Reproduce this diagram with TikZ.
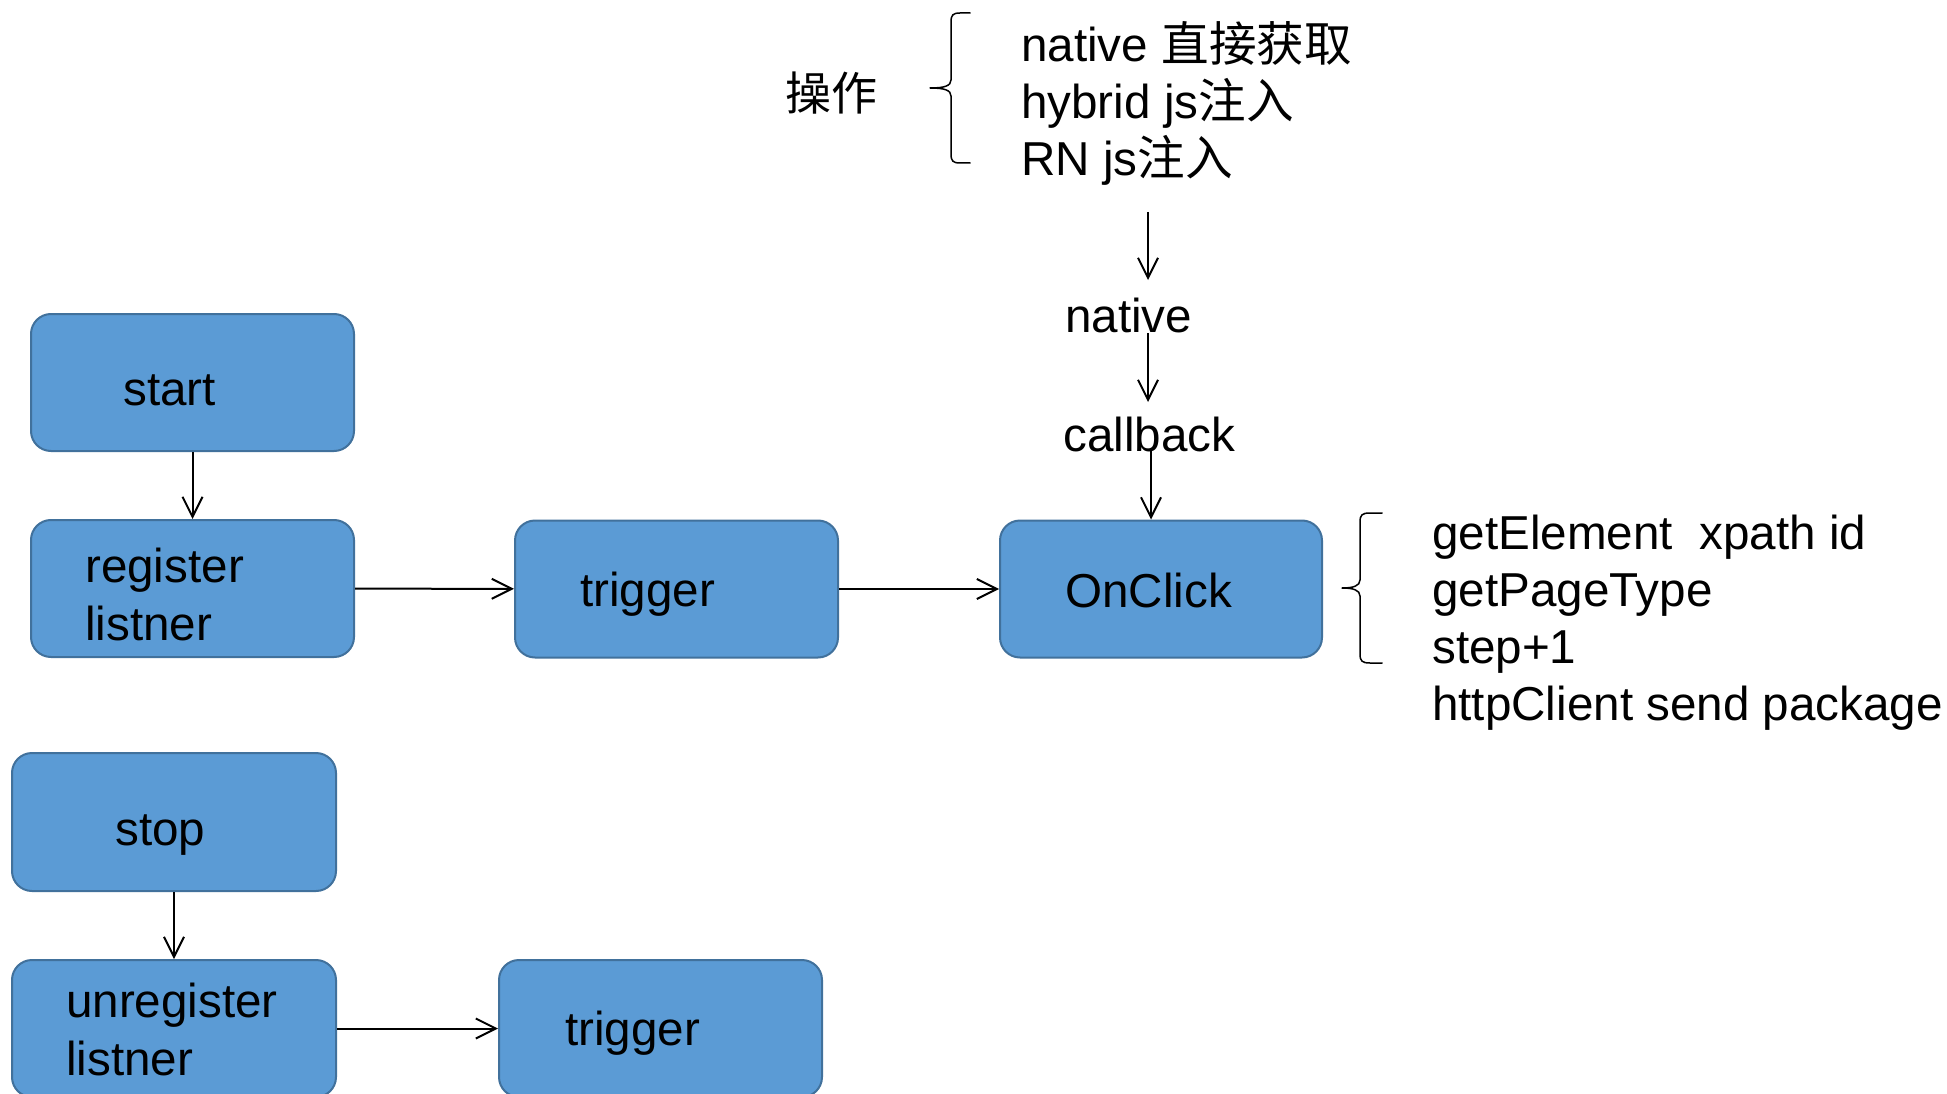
\documentclass[tikz,border=0pt]{standalone}
\usepackage{fontspec}
\setmainfont{Liberation Sans}
\newfontfamily\cjk{Noto Sans CJK SC}
\usetikzlibrary{arrows.meta}
\definecolor{boxfill}{HTML}{5B9BD5}
\definecolor{boxline}{HTML}{41719C}
\begin{document}
\begin{tikzpicture}[x=1pt,y=-1pt,
  box/.style={draw=boxline, fill=boxfill, line width=2pt, rounded corners=20pt,
    minimum width=323pt, minimum height=137pt, inner sep=0pt},
  txt/.style={inner sep=0pt, anchor=base west, align=left,
    font=\fontsize{47.6}{57.5}\selectfont},
  arr/.style={line width=2pt, -{Straight Barb[length=20pt,width=20pt]}},
  brace/.style={line width=1.5pt, line join=round, line cap=round}]
\path[fill=white, use as bounding box] (0,0) rectangle (1947,1094);

% boxes
\node[box] (start) at (192.5,382.5) {};
\node[box] (register) at (192.5,588.5) {};
\node[box] (trigger) at (676.5,589) {};
\node[box, minimum width=322pt] (onclick) at (1161,589) {};
\node[box, minimum width=324pt, minimum height=138pt] (stop) at (174,822) {};
\node[box, minimum width=324pt] (unregister) at (174,1028.5) {};
\node[box] (trigger2) at (660.5,1028.5) {};

% box texts (base anchor of a multi-line node = last line's baseline)
\node[txt] (startT) at (123,405) {start};
\node[txt] (registerT) at (85,640) {register\\listner};
\node[txt] (triggerT) at (580,606) {trigger};
\node[txt] (onclickT) at (1065,607) {OnClick};
\node[txt] (stopT) at (115,845) {stop};
\node[txt] (unregisterT) at (66,1075) {unregister\\listner};
\node[txt] (trigger2T) at (565,1045) {trigger};

% free texts
\node[inner sep=0pt, font=\fontsize{46}{46}\selectfont\cjk] (caozuo) at (831.5,93) {操作};
\node[txt, font=\fontsize{47.6}{57}\selectfont] (ops) at (1021,176)
  {native {\cjk 直接获取}\\hybrid js{\cjk 注入}\\RN js{\cjk 注入}};
\node[txt] (native) at (1065,332) {native};
\node[txt] (callback) at (1063,451) {callback};
\node[txt, font=\fontsize{47.6}{56.7}\selectfont] (info) at (1432,720)
  {getElement\ \ xpath id\\getPageType\\step+1\\httpClient send package};

% braces
\draw[brace] (970,13) -- (960,13) .. controls (953,13) and (951,15) .. (951,22)
  -- (951,80) .. controls (951,86) and (944,88) .. (930,88)
  .. controls (944,88) and (951,90) .. (951,96)
  -- (951,154) .. controls (951,161) and (953,163) .. (960,163) -- (970,163);
\draw[brace] (1382,513) -- (1370,513) .. controls (1362,513) and (1360,515) .. (1360,522)
  -- (1360,580) .. controls (1360,586) and (1353,588) .. (1342,588)
  .. controls (1353,588) and (1360,590) .. (1360,596)
  -- (1360,654) .. controls (1360,661) and (1362,663) .. (1370,663) -- (1382,663);

% connectors
\coordinate (c1) at (1148,212);
\coordinate (c2) at (1148,280);
\coordinate (c3) at (1148,333);
\coordinate (c4) at (1148,402);
\coordinate (c5) at (1151,450);
\draw[arr] (c1) -- (c2);
\draw[arr] (c3) -- (c4);
\draw[arr] (c5) -- (c5 |- onclick.north);
\draw[arr] (start) -- (register);
\draw[arr] (register) -- (trigger);
\draw[arr] (trigger) -- (onclick);
\draw[arr] (stop) -- (unregister);
\draw[arr] (unregister) -- (trigger2);
\end{tikzpicture}
\end{document}
